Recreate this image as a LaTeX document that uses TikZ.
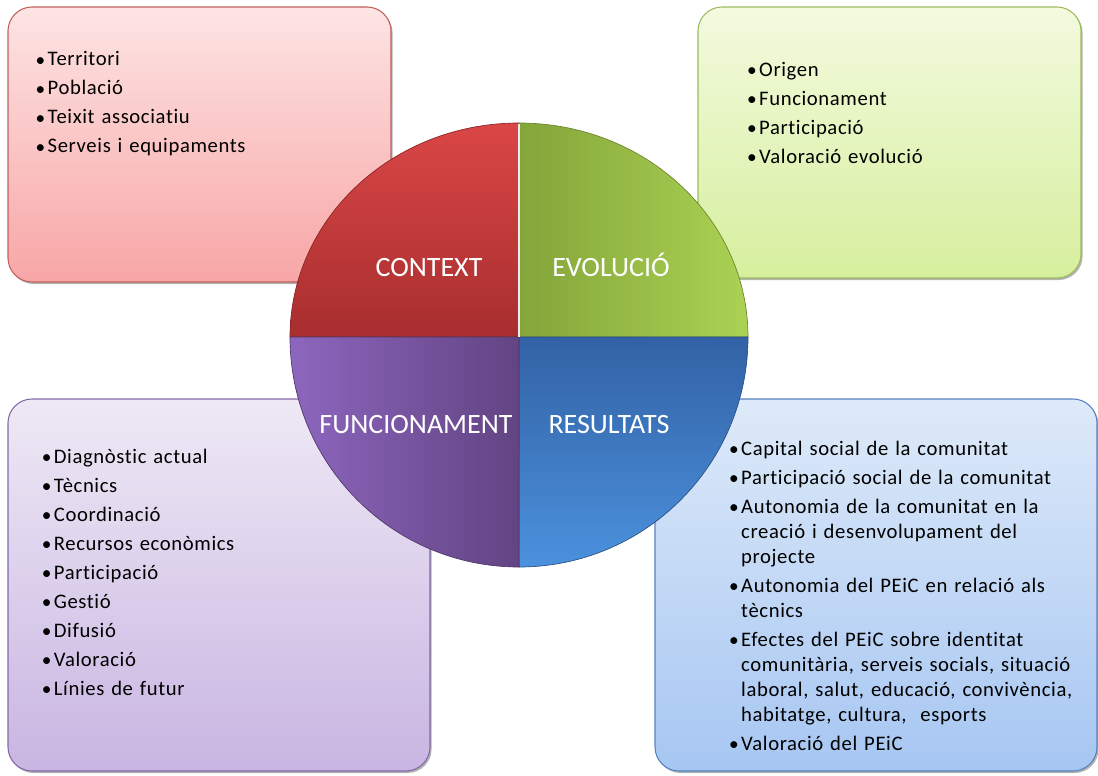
\documentclass[tikz,border=0pt]{standalone}
\usepackage{fontspec}
\setmainfont{Carlito}[Ligatures=NoCommon]
\newfontfamily\lstfont{Carlito}[LetterSpace=3,Ligatures=NoCommon]
\usetikzlibrary{shadows}
\definecolor{redA}{HTML}{FDE4E4}
\definecolor{redB}{HTML}{F8A6A6}
\definecolor{redC}{HTML}{C0605E}
\definecolor{grnA}{HTML}{F3FADF}
\definecolor{grnB}{HTML}{D6EF9D}
\definecolor{grnC}{HTML}{9DBB5E}
\definecolor{purA}{HTML}{EEE9F5}
\definecolor{purB}{HTML}{C9B5E2}
\definecolor{purC}{HTML}{8468A6}
\definecolor{bluA}{HTML}{DEEAF9}
\definecolor{bluB}{HTML}{A6C6F2}
\definecolor{bluC}{HTML}{5583BE}
\definecolor{ctxA}{HTML}{DA4646}
\definecolor{ctxB}{HTML}{A82E2F}
\definecolor{evoA}{HTML}{84A53A}
\definecolor{evoB}{HTML}{ABD253}
\definecolor{fnA}{HTML}{8D66BE}
\definecolor{fnB}{HTML}{624483}
\definecolor{resA}{HTML}{3262A5}
\definecolor{resB}{HTML}{4B91DD}
\newcommand{\itm}[1]{\hangindent=8.2pt\hangafter=1\noindent\strut\makebox[8.2pt][l]{\hspace{-0.8pt}\raisebox{-0.2pt}{\fontsize{14.5}{14.5}\selectfont\textbullet}}#1\par\vspace{3pt}}
\begin{document}
\begin{tikzpicture}[x=0.75pt,y=-0.75pt,
	box/.style={rounded corners=18pt,line width=0.8pt,drop shadow={shadow xshift=1.2pt,shadow yshift=-1.5pt,opacity=.3,fill=black}},
	lst/.style={anchor=north west,inner sep=0pt,align=left,text width=#1,font=\lstfont\fontsize{15.5}{18.75}\selectfont},
	lbl/.style={anchor=base,inner sep=0pt,text=white,font=\fontsize{21}{25}\selectfont}]
	%		\draw[thin,color=gray!20](0,0)grid[step=50](1098,775);
	\useasboundingbox (0,0) rectangle (1098,775);
	\path[box,top color=redA,bottom color=redB,draw=redC] (8,7) rectangle (391,282);
	\path[box,top color=grnA,bottom color=grnB,draw=grnC] (698,7) rectangle (1081,278);
	\path[box,top color=purA,bottom color=purB,draw=purC] (8,399) rectangle (430,771);
	\path[box,top color=bluA,bottom color=bluB,draw=bluC] (655,399) rectangle (1097,771);
	\coordinate (o) at (519,337);
	\shade[top color=ctxA,bottom color=ctxB,draw=ctxB!80!black,line width=0.5pt] (o)--(290,337) arc[start angle=180,end angle=270,x radius=229,y radius=214]--cycle;
	\shade[left color=evoA,right color=evoB,draw=evoA!80!black,line width=0.5pt] (o)--(519,123) arc[start angle=270,end angle=360,x radius=229,y radius=214]--cycle;
	\shade[top color=resA,bottom color=resB,draw=resA!80!black,line width=0.5pt] (o)--(748,337) arc[start angle=0,end angle=90,x radius=229,y radius=230]--cycle;
	\shade[left color=fnA,right color=fnB,draw=fnB!80!black,line width=0.5pt] (o)--(519,567) arc[start angle=90,end angle=180,x radius=229,y radius=230]--cycle;
	\draw[white!85!gray,line width=1pt] (o)--(519,124);
	\node[lbl] (ctx) at (429,276) {CONTEXT};
	\node[lbl] (evo) at (611,276) {EVOLUCIÓ};
	\node[lbl] (fun) at (416,433) {FUNCIONAMENT};
	\node[lbl] (res) at (609,433) {RESULTATS};
	\node[lst=250pt] (ctxlist) at (36.5,48.2) {\itm{Territori}\itm{Població}\itm{Teixit associatiu}\itm{Serveis i equipaments}};
	\node[lst=250pt] (evolist) at (748,58.5) {\itm{Origen}\itm{Funcionament}\itm{Participació}\itm{Valoració\ evolució}};
	\node[lst=250pt] (funlist) at (42.7,445.5) {\itm{Diagnòstic actual}\itm{Tècnics}\itm{Coordinació}\itm{Recursos\ econòmics}\itm{Participació}\itm{Gestió}\itm{Difusió}\itm{Valoració}\itm{Línies de futur}};
	\node[lst=275pt] (reslist) at (730,437.5) {\itm{Capital social de la comunitat}\itm{Participació social de la comunitat}\itm{Autonomia de la comunitat en la\newline creació i desenvolupament\ del\newline projecte}\itm{Autonomia del PEiC en relació als\newline tècnics}\itm{Efectes del PEiC sobre identitat\newline comunitària, serveis socials, situació\newline laboral, salut, educació, convivència,\newline habitatge, cultura,\ \ esports}\itm{Valoració del PEiC}};
\end{tikzpicture}
\end{document}
